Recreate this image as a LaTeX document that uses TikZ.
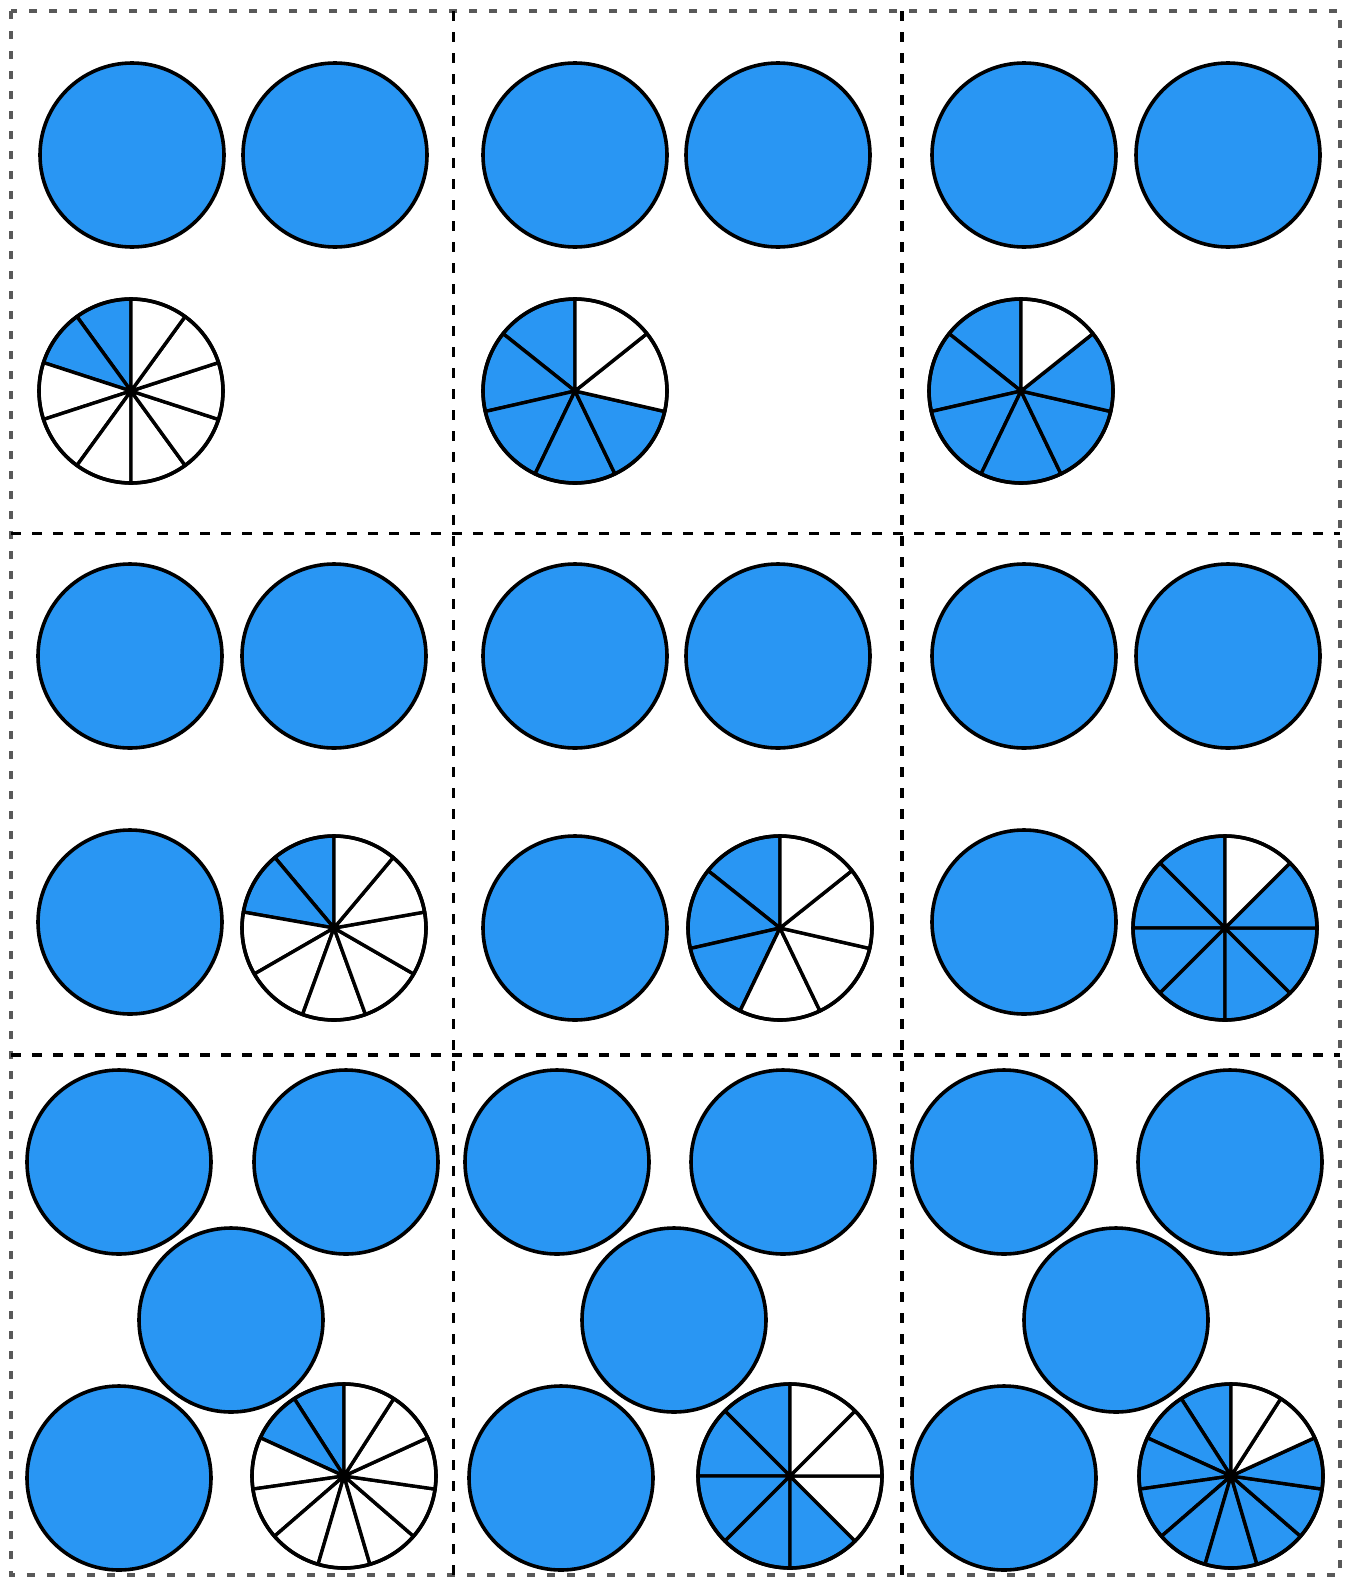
\documentclass[tikz,border=0pt]{standalone}
\usetikzlibrary{calc}
\definecolor{pieblue}{RGB}{41,150,243}
\tikzset{
  whole/.style={draw=black, line width=3.6pt, fill=pieblue},
  slice/.style={draw=black, line width=3.4pt, line join=round},
  rim/.style={draw=black, line width=3.6pt},
  outerframe/.style={draw=black!65, line width=3.2pt, dash pattern=on 8pt off 12pt},
  cellline/.style={draw=black, line width=3.8pt, dash pattern=on 10pt off 11pt}
}
\newcommand{\fracpie}[4]{%
  \foreach \i in {1,...,#3}{%
    \pgfmathsetmacro{\sa}{90+(\i-1)*360/#3}%
    \ifnum\i>#4 \def\piecol{white}\else\def\piecol{pieblue}\fi
    \filldraw[slice, fill=\piecol] (#1,-#2) -- ++(\sa:92) arc[start angle=\sa, delta angle=360/#3, radius=92] -- cycle;
  }
  \draw[rim] (#1,-#2) circle[radius=92];
}

\begin{document}
\begin{tikzpicture}[x=1pt, y=1pt]
  \useasboundingbox (0,0) rectangle (1349,-1577);
  \draw[outerframe] (11,-11) rectangle (1340,-1575);
  \draw[cellline] (453.5,-11) -- (453.5,-1575);
  \draw[cellline] (902,-11) -- (902,-1575);
  \draw[cellline] (11,-533.5) -- (1340,-533.5);
  \draw[cellline] (11,-1055) -- (1340,-1055);
  \foreach \cx/\cy in {132/155, 335/155, 575/155, 778/155, 1024/155, 1228/155,
                       130/656, 334/656, 130/922, 575/656, 778/656, 575/928,
                       1024/656, 1228/656, 1024/922,
                       119/1162, 346/1162, 231/1320, 119/1478,
                       557/1162, 783/1162, 674/1320, 561/1478,
                       1004/1162, 1230/1162, 1116/1320, 1004/1478}
    \draw[whole] (\cx,-\cy) circle[radius=92];
  \fracpie{131}{391}{10}{2}
  \fracpie{575}{391}{7}{5}
  \fracpie{1021}{391}{7}{6}
  \fracpie{334}{928}{9}{2}
  \fracpie{780}{928}{7}{3}
  \fracpie{1225}{928}{8}{7}
  \fracpie{344}{1476}{11}{2}
  \fracpie{790}{1476}{8}{5}
  \fracpie{1231}{1476}{11}{9}
\end{tikzpicture}
\end{document}
